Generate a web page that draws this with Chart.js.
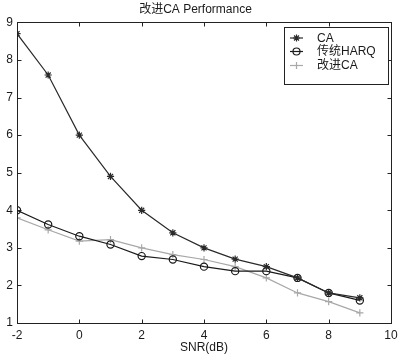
<!DOCTYPE html>
<html><head><meta charset="utf-8">
<script src="https://cdn.jsdelivr.net/npm/chart.js@4/dist/chart.umd.min.js"></script>
<style>html,body{margin:0;padding:0;background:#fff}canvas{display:block}</style>
</head><body>
<canvas id="c" width="400" height="355"></canvas>
<script>
const snr = [-2,-1,0,1,2,3,4,5,6,7,8,9];
const caValues = [8.7,7.6,6.0,4.9,4.0,3.4,3.0,2.7,2.5,2.2,1.8,1.67];
const harqValues = [4.0,3.62,3.31,3.09,2.78,2.69,2.5,2.38,2.38,2.2,1.8,1.6];
const improvedValues = [3.8,3.48,3.18,3.22,3.0,2.82,2.69,2.5,2.2,1.8,1.57,1.27];
const xTicks = [-2,0,2,4,6,8,10];
const yTicks = [1,2,3,4,5,6,7,8,9];
const seriesNames = ['CA','传统HARQ','改进CA'];
const titleText = '改进CA Performance';
const xTitle = 'SNR(dB)';

const FONT = "'Liberation Sans', Arial, 'Noto Sans CJK SC', sans-serif";
const TXT = '#1a1a1a';
const styles = [
  {color:'#2a2a2a', point:'star'},
  {color:'#1a1a1a', point:'circle'},
  {color:'#a8a8a8', point:'cross'}
];
const seriesValues = [caValues, harqValues, improvedValues];

function pts(vals){ return snr.map((x,i)=>({x:x,y:vals[i]})); }

function drawMarker(ctx, style, x, y, r, color){
  ctx.save();
  ctx.strokeStyle = color; ctx.lineWidth = 1.2;
  ctx.beginPath();
  if (style === 'circle'){
    ctx.arc(x,y,r,0,Math.PI*2);
  } else if (style === 'cross'){
    ctx.moveTo(x-r,y); ctx.lineTo(x+r,y); ctx.moveTo(x,y-r); ctx.lineTo(x,y+r);
  } else {
    ctx.moveTo(x-r,y); ctx.lineTo(x+r,y); ctx.moveTo(x,y-r); ctx.lineTo(x,y+r);
    const d = r*0.707;
    ctx.moveTo(x-d,y-d); ctx.lineTo(x+d,y+d); ctx.moveTo(x-d,y+d); ctx.lineTo(x+d,y-d);
  }
  ctx.stroke();
  ctx.restore();
}

const framePlugin = {
  id:'frame',
  afterDatasetsDraw(chart){
    const {ctx, chartArea:a, scales} = chart;
    ctx.save();
    ctx.strokeStyle = '#222'; ctx.lineWidth = 1;
    const l = Math.round(a.left)+0.5, t = Math.round(a.top)+0.5;
    const r = Math.round(a.right)+0.5, b = Math.round(a.bottom)+0.5;
    ctx.strokeRect(l, t, r-l, b-t);
    ctx.beginPath();
    const L = 4;
    scales.x.ticks.forEach(tk=>{
      const px = Math.round(scales.x.getPixelForValue(tk.value))+0.5;
      ctx.moveTo(px,b); ctx.lineTo(px,b-L);
      ctx.moveTo(px,t); ctx.lineTo(px,t+L);
    });
    scales.y.ticks.forEach(tk=>{
      const py = Math.round(scales.y.getPixelForValue(tk.value))+0.5;
      ctx.moveTo(l,py); ctx.lineTo(l+L,py);
      ctx.moveTo(r,py); ctx.lineTo(r-L,py);
    });
    ctx.stroke();
    // legend
    const bx=284.5, by=27.5, bw=104, bh=57;
    ctx.fillStyle='#fff';
    ctx.fillRect(bx,by,bw,bh);
    ctx.strokeStyle='#222';
    ctx.strokeRect(bx,by,bw,bh);
    const rows=[38,51.5,65.5];
    ctx.font = '12px ' + FONT;
    ctx.textBaseline='middle'; ctx.textAlign='left';
    seriesNames.forEach((n,i)=>{
      const y=rows[i];
      ctx.strokeStyle=styles[i].color; ctx.lineWidth=1.2;
      ctx.beginPath(); ctx.moveTo(290,y); ctx.lineTo(303,y); ctx.stroke();
      drawMarker(ctx, styles[i].point, 296.5, y, 3.5, styles[i].color);
      ctx.fillStyle=TXT;
      ctx.fillText(n, 317, y+0.5);
    });
    ctx.restore();
  }
};

new Chart(document.getElementById('c'), {
  type:'line',
  data:{
    datasets: seriesNames.map((n,i)=>({
      label:n,
      data:pts(seriesValues[i]),
      borderColor:styles[i].color,
      backgroundColor:'rgba(0,0,0,0)',
      borderWidth:1.2,
      pointStyle:styles[i].point,
      pointRadius:3.6,
      pointBorderWidth:1.2,
      pointBorderColor:styles[i].color,
      pointBackgroundColor:'rgba(0,0,0,0)',
      tension:0,
      fill:false
    }))
  },
  options:{
    responsive:false,
    animation:false,
    devicePixelRatio:1,
    layout:{padding:{left:0,right:9,top:0,bottom:0}},
    plugins:{
      legend:{display:false},
      tooltip:{enabled:false},
      title:{display:true,text:titleText,color:TXT,font:{family:FONT,size:12,weight:'normal'},padding:{top:2,bottom:6}}
    },
    scales:{
      x:{
        type:'linear', min:-2, max:10,
        afterBuildTicks(s){ s.ticks = xTicks.map(v=>({value:v})); },
        afterFit(s){ s.height = 32; },
        grid:{display:false,drawTicks:true,tickLength:5}, border:{display:false},
        ticks:{color:TXT,font:{family:FONT,size:12},padding:0,maxRotation:0,autoSkip:false},
        title:{display:true,text:xTitle,color:TXT,font:{family:FONT,size:12},padding:{top:0,bottom:0}}
      },
      y:{
        type:'linear', min:1, max:9,
        afterBuildTicks(s){ s.ticks = yTicks.map(v=>({value:v})); },
        afterFit(s){ s.width = 17; },
        grid:{display:false,drawTicks:false}, border:{display:false},
        ticks:{color:TXT,font:{family:FONT,size:12},padding:4}
      }
    }
  },
  plugins:[framePlugin]
});
</script>
</body></html>
